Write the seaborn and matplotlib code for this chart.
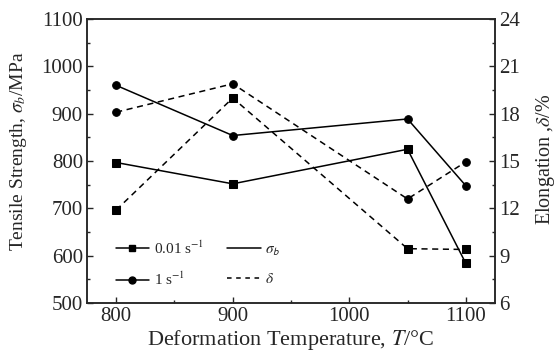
import pandas as pd
import matplotlib
matplotlib.use('Agg')
import matplotlib.pyplot as plt
from matplotlib.lines import Line2D
from matplotlib.ticker import MultipleLocator
import seaborn as sns

# data
temps = [800, 900, 1050, 1100]
rates = ['0.01 s$^{-1}$', '1 s$^{-1}$']
strength_001 = [797, 752, 825, 584]
strength_1 = [960, 854, 889, 748]
elong_001 = [11.9, 19.0, 9.45, 9.4]
elong_1 = [18.1, 19.9, 12.6, 14.95]

df_s = pd.DataFrame({'T': temps * 2,
                     'val': strength_001 + strength_1,
                     'rate': [rates[0]] * 4 + [rates[1]] * 4})
df_e = pd.DataFrame({'T': temps * 2,
                     'val': elong_001 + elong_1,
                     'rate': [rates[0]] * 4 + [rates[1]] * 4})

sns.set_style('ticks')
plt.rcParams['font.family'] = ['Liberation Serif', 'DejaVu Sans']
plt.rcParams['mathtext.fontset'] = 'stix'
plt.rcParams['xtick.direction'] = 'in'
plt.rcParams['ytick.direction'] = 'in'

fig = plt.figure(figsize=(5.58, 3.6), dpi=100)
ax = fig.add_axes([0.156, 0.158, 0.731, 0.789])
ax2 = ax.twinx()

markers = {rates[0]: 's', rates[1]: 'o'}
palette = {rates[0]: 'black', rates[1]: 'black'}

sns.lineplot(data=df_s, x='T', y='val', hue='rate', style='rate', markers=markers,
             dashes=False, palette=palette, ax=ax, legend=False,
             linewidth=1.1, markersize=5.5, markeredgecolor='black')
sns.lineplot(data=df_e, x='T', y='val', hue='rate', style='rate', markers=markers,
             dashes={rates[0]: (4, 3), rates[1]: (4, 3)}, palette=palette, ax=ax2,
             legend=False, linewidth=1.1, markersize=5.5, markeredgecolor='black')

ax.set_xlim(775, 1125)
ax.set_ylim(500, 1100)
ax2.set_ylim(6, 24)
ax.xaxis.set_major_locator(MultipleLocator(100))
ax.xaxis.set_minor_locator(MultipleLocator(50))
ax.yaxis.set_major_locator(MultipleLocator(100))
ax.yaxis.set_minor_locator(MultipleLocator(50))
ax2.yaxis.set_major_locator(MultipleLocator(3))
ax2.yaxis.set_minor_locator(MultipleLocator(1.5))

for a in (ax, ax2):
    a.tick_params(which='major', length=4, width=1, labelsize=15, pad=3)
    a.tick_params(which='minor', length=2.5, width=1)
    for s in a.spines.values():
        s.set_linewidth(1.1)
ax.tick_params(axis='x', which='both', top=False)
ax.tick_params(axis='y', which='both', right=False)

ax.set_xlabel('Deformation Temperature, $T$/\u00b0C', fontsize=16, labelpad=1)
ax.set_ylabel('Tensile Strength, $\\sigma_b$/MPa', fontsize=14)
ax2.set_ylabel('Elongation ,$\\delta$/%', fontsize=14.5)
ax.yaxis.set_label_coords(-0.142, 0.535)
ax2.yaxis.set_label_coords(1.095, 0.507)

handles = [
    Line2D([], [], color='black', marker='s', markersize=5, lw=1.1),
    Line2D([], [], color='black', marker='o', markersize=5, lw=1.1),
    Line2D([], [], color='black', lw=1.1),
    Line2D([], [], color='black', lw=1.1, ls=(0, (3, 3))),
]
labels = rates + ['$\\sigma_\\mathsf{b}$', '$\\delta$']
ax.legend(handles, labels, ncol=2, loc='lower left', frameon=False, fontsize=11,
          bbox_to_anchor=(0.055, 0.03), handlelength=2.2, columnspacing=1.5,
          handletextpad=0.3, labelspacing=0.95, borderaxespad=0)

fig.savefig('out.png', dpi=100)
